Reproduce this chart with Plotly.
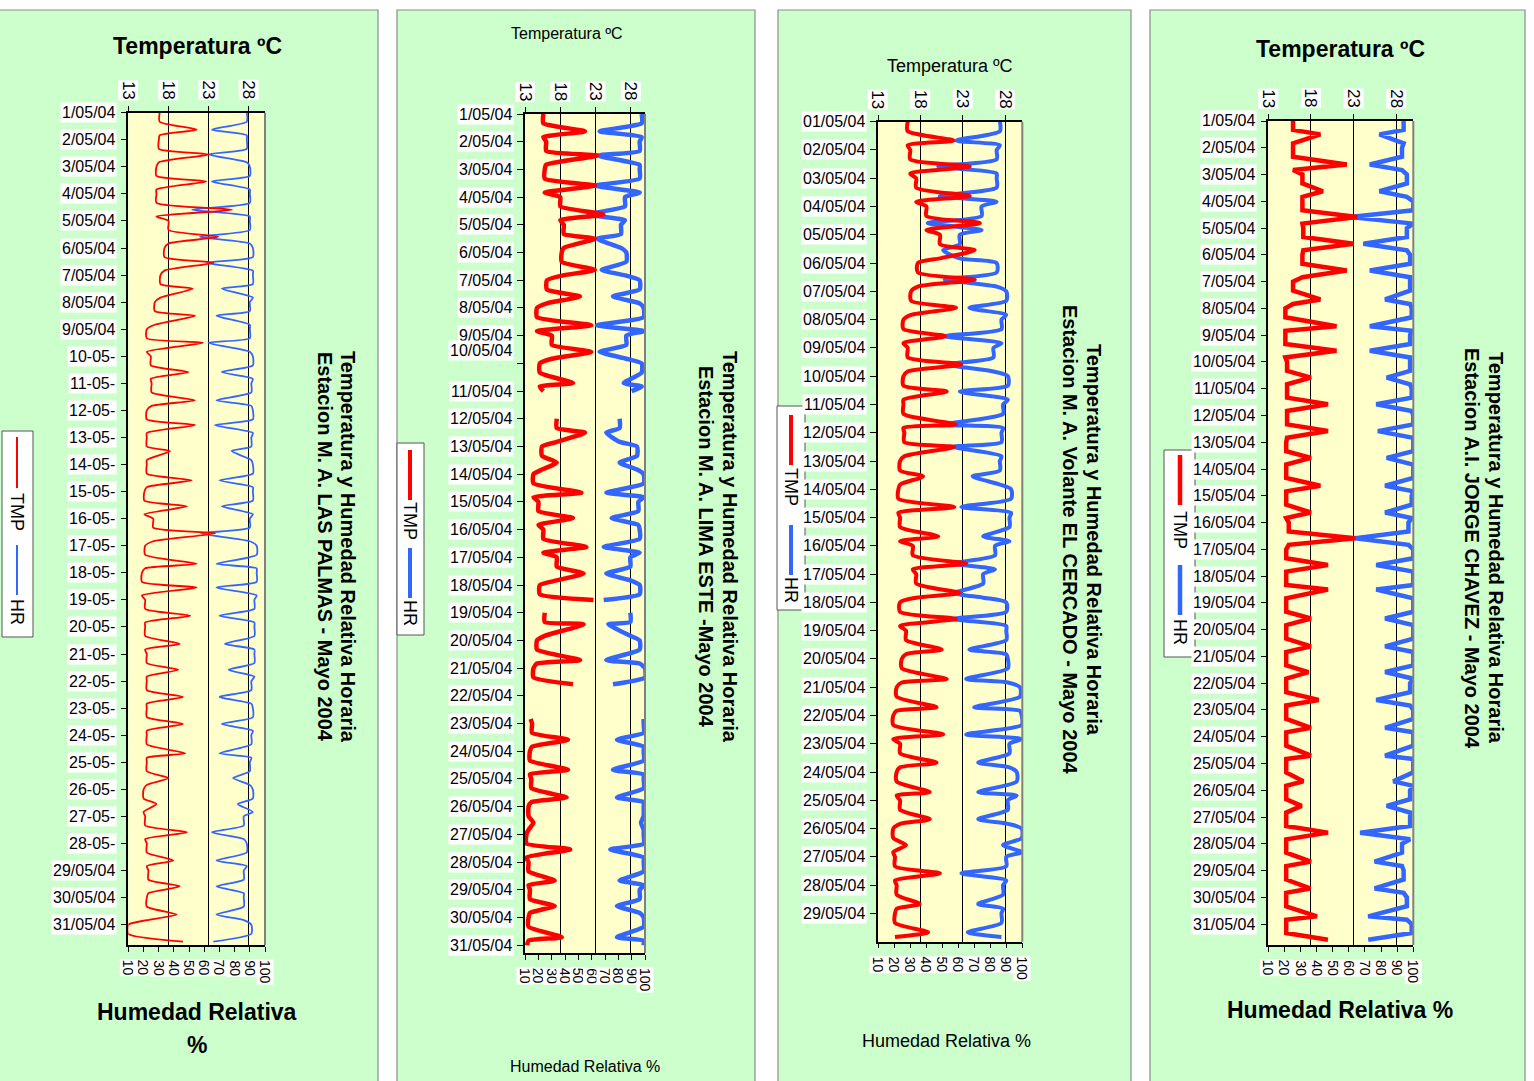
import plotly.graph_objects as go

W, H = 1534, 1081
FONT = "Liberation Sans, Arial, sans-serif"
RED = "#FF0000"
BLUE = "#3366FF"
PANEL_BG = "#CCFFCC"
PLOT_BG = "#FFFFCC"

# ---------------- Panel 1 : LAS PALMAS ----------------
p1_labels = ["1/05/04", "2/05/04", "3/05/04", "4/05/04", "5/05/04", "6/05/04", "7/05/04",
             "8/05/04", "9/05/04", "10-05-", "11-05-", "12-05-", "13-05-", "14-05-", "15-05-",
             "16-05-", "17-05-", "18-05-", "19-05-", "20-05-", "21-05-", "22-05-", "23-05-",
             "24-05-", "25-05-", "26-05-", "27-05-", "28-05-", "29/05/04", "30/05/04", "31/05/04"]
p1_tmp_low = [16.9, 16.8, 16.5, 16.5, 18.0, 17.5, 17.0, 16.3, 15.3, 15.8, 15.9, 15.3, 15.3, 15.3, 15.0, 16.1,
              15.1, 14.7, 15.1, 15.1, 15.3, 15.3, 15.3, 15.3, 15.3, 14.9, 15.1, 15.3, 15.5, 15.3, 13.0]
p1_tmp_high = [21.5, 23.0, 22.7, 25.9, 24.2, 23.6, 21.0, 21.3, 22.3, 20.5, 21.3, 21.3, 18.2, 20.9, 20.3, 23.8,
               21.5, 21.5, 20.7, 19.4, 19.2, 19.8, 19.8, 20.1, 18.0, 16.5, 20.3, 18.6, 19.4, 19.0, 19.8]
p1_hr_high = [88, 88, 90, 90, 90, 92, 92, 90, 90, 92, 91, 92, 91, 92, 92, 90,
              94.5, 94.5, 93, 93, 93, 91, 92, 91, 90, 92, 86, 88, 86, 86, 91]
p1_hr_low = [65, 63, 65, 52, 57, 61.6, 71.5, 68, 62.7, 71.5, 68, 67, 78, 70, 71.5, 58,
             68, 68, 70, 73.6, 76, 70, 71.5, 70, 79, 82, 65, 68, 68, 68, 66]
p1_peak_hour = [15, 13, 13, 14, 14, 13, 12, 12, 12, 14, 15, 13, 12, 14, 13, 13,
                16, 13, 14, 15, 14, 14, 14, 16, 14, 13, 14, 15, 14, 15, 15]

# ---------------- Panel 2 : LIMA ESTE ----------------
p2_labels = [f"{d}/05/04" for d in range(1, 32)]
p2_tmp_low = [15.6, 16.0, 15.8, 18.0, 18.5, 18.2, 16.1, 14.7, 16.8, 15.1, 15.6, 17.5, 15.4, 14.2, 14.9, 15.6,
              17.5, 15.1, 15.8, 14.7, 14.2, 13.8, 14.0, 13.7, 13.9, 13.5, 13.2, 13.5, 13.7, 13.5, 13.3]
p2_tmp_high = [21.5, 23.2, 22.9, 24.1, 22.9, 22.9, 20.8, 22.4, 22.4, 19.8, 15.6, 21.5, 17.5, 21.0, 19.8, 21.7,
               21.3, 22.7, 21.3, 20.8, 19.8, 17.3, 19.1, 19.1, 18.9, 14.2, 19.4, 17.2, 17.2, 18.2, 13.3]
p2_hr_high = [97.5, 96, 96, 85, 82, 86, 96, 99, 86, 97.5, 90, 81, 94, 99, 95, 96,
              89, 96, 89, 96, 100, 99, 99, 99, 99, 99, 99, 99, 96, 99, 99]
p2_hr_low = [66, 65, 62.5, 57.5, 64, 67.5, 76, 64, 66, 84, 90, 71, 81, 71, 75, 69,
             71, 69, 72.5, 71, 76, 79, 79, 76, 79, 97, 74, 81, 79, 79, 99]
p2_peak_hour = [15, 12, 14, 15, 12, 15, 14, 15, 14, 17, 12, 12, 14, 16, 14, 15,
                14, 13, 10, 17, 14, 14, 14, 16, 16, 14, 13, 16, 14, 17, 14]
p2_gaps = [(11.3, 12.0), (18.6, 19.0), (21.7, 22.7)]

# ---------------- Panel 3 : EL CERCADO ----------------
p3_labels = [f"{d:02d}/05/04" for d in range(1, 30)]
p3_tmp_low = [16.5, 16.8, 17.5, 18.7, 20.3, 17.7, 16.9, 16.0, 16.5, 16.0, 16.0, 16.1, 15.6, 15.4, 15.6,
              17.1, 17.5, 15.6, 16.3, 15.8, 15.2, 14.8, 15.6, 15.2, 15.6, 14.8, 15.0, 15.2, 15.0]
p3_tmp_high = [21.9, 23.8, 23.8, 25.0, 24.4, 24.4, 22.2, 20.9, 22.8, 21.1, 22.2, 22.0, 18.3, 22.0, 20.1,
               23.4, 22.6, 22.2, 20.5, 21.1, 19.9, 20.7, 19.9, 19.1, 19.1, 16.3, 20.3, 17.9, 18.9]
p3_hr_high = [86, 84, 84, 74.6, 61, 84, 90, 87, 82, 91, 88, 87, 86, 93, 92,
              83, 75.6, 90, 90, 91, 98.5, 99.6, 92, 96.5, 91, 99.6, 90, 88, 87]
p3_hr_low = [59, 47.5, 48.5, 41, 50.6, 51.7, 67, 51.7, 53.8, 61, 51.7, 57, 69, 62, 75.6,
             57, 58, 57, 67, 65, 70, 65, 72.5, 72.5, 72.5, 88, 62, 72.5, 66]
p3_peak_hour = [16, 14, 15, 14, 13, 14, 14, 14, 14, 13, 17, 12, 13, 15, 16,
                15, 16, 14, 16, 17, 17, 16, 16, 17, 16, 14, 14, 16, 16]

# ---------------- Panel 4 : JORGE CHAVEZ ----------------
p4_labels = [f"{d}/05/04" for d in range(1, 32)]
p4_tmp_low = [15.9, 15.9, 17.0, 17.0, 17.1, 17.0, 15.9, 15.0, 15.0, 15.2, 15.2, 15.2, 15.1, 15.1, 15.1, 15.4,
              15.1, 15.1, 15.1, 15.1, 15.1, 15.1, 15.1, 15.1, 15.1, 15.1, 15.1, 15.1, 15.1, 15.1, 15.1]
p4_tmp_high = [19.1, 22.2, 19.4, 23.4, 23.0, 22.2, 19.1, 21.0, 21.0, 18.0, 20.0, 20.0, 18.0, 19.1, 18.0, 23.2,
               20.0, 20.0, 18.0, 18.0, 17.7, 18.9, 18.0, 18.0, 17.1, 16.9, 20.0, 18.0, 17.9, 18.7, 20.0]
p4_hr_high = [94, 93, 96, 100, 96, 98, 98, 99, 98, 98, 99, 100, 100, 100, 99, 97,
              100, 100, 100, 100, 100, 98, 100, 100, 100, 98, 98, 93, 94, 96, 99]
p4_hr_low = [79, 73, 79, 60.7, 69, 73, 82.5, 73, 73, 83.5, 77, 78, 83.5, 82.5, 82.5, 64,
             77, 77, 82.5, 82.5, 82.5, 77, 82.5, 82.5, 87.6, 83.5, 67, 76, 76, 72, 72]
p4_peak_hour = [12, 15, 15, 14, 14, 14, 16, 16, 14, 14, 14, 14, 14, 15, 15, 14,
                14, 12, 14, 15, 14, 15, 16, 17, 16, 14, 14, 16, 16, 17, 14]

tmp_ticks = [13, 18, 23, 28]
hr_ticks = [10, 20, 30, 40, 50, 60, 70, 80, 90, 100]


def series(base, peak, peak_hour, end, gaps=()):
    t, v = [], []
    prev_gap = False
    for i in range(len(base)):
        d = i + 1
        for h, val in ((0, base[i]), (8, base[i]), (peak_hour[i], peak[i]), (20, base[i])):
            tt = d + h / 24
            if tt > end:
                continue
            if any(a < tt < b for a, b in gaps):
                if not prev_gap:
                    t.append(None)
                    v.append(None)
                prev_gap = True
                continue
            prev_gap = False
            t.append(tt)
            v.append(val)
    return t, v


def px(x):
    return x / W


def py(y):
    return 1 - y / H


panels = [
    dict(labels=p1_labels, tl=p1_tmp_low, th=p1_tmp_high, hh=p1_hr_high, hl=p1_hr_low, pk=p1_peak_hour,
         gaps=[], end=31.75, box=(128.3, 265, 112.7, 945), lw=1.8, bg=(-2, 378), smooth=0.6,
         title=("<b>Temperatura ºC</b>", 197, 46, 23), bottom=[("<b>Humedad Relativa</b>", 197, 1012, 23), ("<b>%</b>", 197, 1045, 23)],
         side=("<b>Temperatura y Humedad Relativa Horaria</b>", "<b>Estacion M. A. LAS PALMAS - Mayo 2004</b>", 348, 325, 547),
         legend=dict(box=(2, 431, 33, 637), x=17, red=(437, 488), tmp=512, blue=(545, 595), hr=612, lw=2),
         label_shift={}),
    dict(labels=p2_labels, tl=p2_tmp_low, th=p2_tmp_high, hh=p2_hr_high, hl=p2_hr_low, pk=p2_peak_hour,
         gaps=p2_gaps, end=31.28, box=(525, 645, 114, 953), lw=4.5, bg=(397, 755), smooth=0.5,
         title=("Temperatura ºC", 567, 33, 16), bottom=[("Humedad Relativa %", 585, 1066, 16)],
         side=("<b>Temperatura y Humedad Relativa Horaria</b>", "<b>Estacion M. A. LIMA ESTE -Mayo 2004</b>", 730, 706, 547),
         legend=dict(box=(397, 443, 424, 635), x=410, red=(450, 500), tmp=521, blue=(548, 598), hr=613, lw=4),
         label_shift={10: 13}),
    dict(labels=p3_labels, tl=p3_tmp_low, th=p3_tmp_high, hh=p3_hr_high, hl=p3_hr_low, pk=p3_peak_hour,
         gaps=[], end=30.0, box=(878, 1022.3, 121.7, 941.7), lw=4, bg=(778, 1131), smooth=0.7,
         title=("Temperatura ºC", 950, 66, 18), bottom=[("Humedad Relativa %", 946, 1041, 18)],
         side=("<b>Temperatura y Humedad Relativa Horaria</b>", "<b>Estacion M. A. Volante EL CERCADO - Mayo 2004</b>", 1094, 1070, 540),
         legend=dict(box=(777, 406, 805, 610), x=791, red=(415, 465), tmp=487, blue=(525, 575), hr=590, lw=4),
         label_shift={}),
    dict(labels=p4_labels, tl=p4_tmp_low, th=p4_tmp_high, hh=p4_hr_high, hl=p4_hr_low, pk=p4_peak_hour,
         gaps=[], end=31.78, box=(1268.3, 1413.3, 121, 945), lw=4.5, bg=(1150, 1525), smooth=0,
         title=("<b>Temperatura ºC</b>", 1340, 49, 23), bottom=[("<b>Humedad Relativa %</b>", 1340, 1010, 23)],
         side=("<b>Temperatura y Humedad Relativa Horaria</b>", "<b>Estacion A.I. JORGE CHAVEZ - Mayo 2004</b>", 1496, 1472, 548),
         legend=dict(box=(1164, 450, 1195, 657), x=1180, red=(455, 505), tmp=530, blue=(565, 615), hr=632, lw=4.5),
         label_shift={}),
]

fig = go.Figure()
layout = dict(width=W, height=H, margin=dict(l=0, r=0, t=0, b=0), paper_bgcolor="white",
              plot_bgcolor="rgba(0,0,0,0)", showlegend=False, font=dict(family=FONT, color="black"))
shapes = []
annotations = []

for i, p in enumerate(panels, start=1):
    xb_name = "x" if i == 1 else f"x{2 * i - 1}"
    xt_name = f"x{2 * i}"
    y_name = "y" if i == 1 else f"y{i}"
    xb_key = "xaxis" if i == 1 else f"xaxis{2 * i - 1}"
    xt_key = f"xaxis{2 * i}"
    y_key = "yaxis" if i == 1 else f"yaxis{i}"
    x0, x1, y0, y1 = p["box"]

    layout[xb_key] = dict(domain=[px(x0), px(x1)], range=[10, 100], anchor=y_name, side="bottom",
                          showline=True, linecolor="black", linewidth=1.5, ticks="outside", ticklen=5,
                          tickcolor="black", tickvals=hr_ticks, showticklabels=False, showgrid=False,
                          zeroline=False, fixedrange=True)
    layout[xt_key] = dict(range=[13, 30], overlaying=xb_name, anchor=y_name, side="top",
                          showline=True, linecolor="black", linewidth=1.5, ticks="outside", ticklen=5,
                          tickcolor="black", tickvals=tmp_ticks, showticklabels=False, showgrid=True,
                          gridcolor="black", gridwidth=1, zeroline=False, fixedrange=True)
    layout[y_key] = dict(domain=[py(y1), py(y0)], range=[p["end"], 1], anchor=xb_name,
                         showline=True, linecolor="black", linewidth=1.5, ticks="outside", ticklen=6,
                         tickcolor="black", tickvals=list(range(1, len(p["labels"]) + 1)),
                         showticklabels=False, showgrid=False, zeroline=False, fixedrange=True)

    # panel green background
    bx0, bx1 = p["bg"]
    shapes.append(dict(type="rect", xref="paper", yref="paper", x0=px(bx0), x1=px(bx1), y0=py(1090), y1=py(10),
                       fillcolor=PANEL_BG, line=dict(color="#8C8C8C", width=1.2), layer="below"))
    # plot area yellow
    shapes.append(dict(type="rect", xref=f"{xb_name} domain", yref=f"{y_name} domain", x0=0, x1=1, y0=0, y1=1,
                       fillcolor=PLOT_BG, line=dict(width=0), layer="below"))
    # right border of plot area
    shapes.append(dict(type="line", xref=f"{xb_name} domain", yref=f"{y_name} domain", x0=1, x1=1, y0=0, y1=1,
                       line=dict(color="#808080", width=2), layer="above"))

    # traces
    if p["smooth"] > 0:
        lshape = dict(shape="spline", smoothing=p["smooth"])
    else:
        lshape = dict(shape="linear")
    tt, tv = series(p["tl"], p["th"], p["pk"], p["end"], p["gaps"])
    ht, hv = series(p["hh"], p["hl"], p["pk"], p["end"], p["gaps"])
    fig.add_trace(go.Scatter(x=hv, y=ht, mode="lines", name="HR", xaxis=xb_name, yaxis=y_name,
                             line=dict(color=BLUE, width=p["lw"], **lshape), hoverinfo="skip"))
    fig.add_trace(go.Scatter(x=tv, y=tt, mode="lines", name="TMP", xaxis=xt_name, yaxis=y_name,
                             line=dict(color=RED, width=p["lw"], **lshape), hoverinfo="skip"))

    # y tick labels (white boxes)
    for d, lab in enumerate(p["labels"], start=1):
        annotations.append(dict(text=lab, xref=f"{xb_name} domain", yref=y_name, x=0, y=d,
                                xanchor="right", yanchor="middle", xshift=-11,
                                yshift=p["label_shift"].get(d, 0), showarrow=False,
                                bgcolor="white", borderpad=1, font=dict(size=16, family=FONT)))
    # top temperature labels
    for v in tmp_ticks:
        annotations.append(dict(text=str(v), xref=xt_name, yref=f"{y_name} domain", x=v, y=1,
                                xanchor="center", yanchor="bottom", yshift=12, textangle=90,
                                showarrow=False, bgcolor="white", borderpad=0, font=dict(size=17, family=FONT)))
    # bottom humidity labels
    for v in hr_ticks:
        annotations.append(dict(text=str(v), xref=xb_name, yref=f"{y_name} domain", x=v, y=0,
                                xanchor="center", yanchor="top", yshift=-14, textangle=90,
                                showarrow=False, bgcolor="white", borderpad=0, font=dict(size=14, family=FONT)))

    # titles
    t, tx, ty, ts = p["title"]
    annotations.append(dict(text=t, xref="paper", yref="paper", x=px(tx), y=py(ty), xanchor="center",
                            yanchor="middle", showarrow=False, font=dict(size=ts, family=FONT)))
    for t, tx, ty, ts in p["bottom"]:
        annotations.append(dict(text=t, xref="paper", yref="paper", x=px(tx), y=py(ty), xanchor="center",
                                yanchor="middle", showarrow=False, font=dict(size=ts, family=FONT)))
    s1, s2, sx1, sx2, sy = p["side"]
    for s, sx in ((s1, sx1), (s2, sx2)):
        annotations.append(dict(text=s, xref="paper", yref="paper", x=px(sx), y=py(sy), xanchor="center",
                                yanchor="middle", textangle=90, showarrow=False, font=dict(size=20, family=FONT)))

    # legend drawn manually (vertical)
    lg = p["legend"]
    lx0, ly0, lx1, ly1 = lg["box"]
    shapes.append(dict(type="rect", xref="paper", yref="paper", x0=px(lx0), x1=px(lx1), y0=py(ly1), y1=py(ly0),
                       fillcolor="white", line=dict(color="#555555", width=1), layer="above"))
    shapes.append(dict(type="line", xref="paper", yref="paper", x0=px(lg["x"]), x1=px(lg["x"]),
                       y0=py(lg["red"][0]), y1=py(lg["red"][1]), line=dict(color=RED, width=lg["lw"]), layer="above"))
    shapes.append(dict(type="line", xref="paper", yref="paper", x0=px(lg["x"]), x1=px(lg["x"]),
                       y0=py(lg["blue"][0]), y1=py(lg["blue"][1]), line=dict(color=BLUE, width=lg["lw"]), layer="above"))
    annotations.append(dict(text="TMP", xref="paper", yref="paper", x=px(lg["x"]), y=py(lg["tmp"]),
                            xanchor="center", yanchor="middle", textangle=90, showarrow=False,
                            font=dict(size=18, family=FONT)))
    annotations.append(dict(text="HR", xref="paper", yref="paper", x=px(lg["x"]), y=py(lg["hr"]),
                            xanchor="center", yanchor="middle", textangle=90, showarrow=False,
                            font=dict(size=18, family=FONT)))

layout["shapes"] = shapes
layout["annotations"] = annotations
fig.update_layout(**layout)
fig.write_html("out.html", config={"displayModeBar": False})

# remove the default page margin so the figure sits at the top-left corner
with open("out.html", "r", encoding="utf-8") as fh:
    page = fh.read()
page = page.replace("<head>", "<head><style>html,body{margin:0;padding:0;overflow:hidden;}</style>", 1)
with open("out.html", "w", encoding="utf-8") as fh:
    fh.write(page)
